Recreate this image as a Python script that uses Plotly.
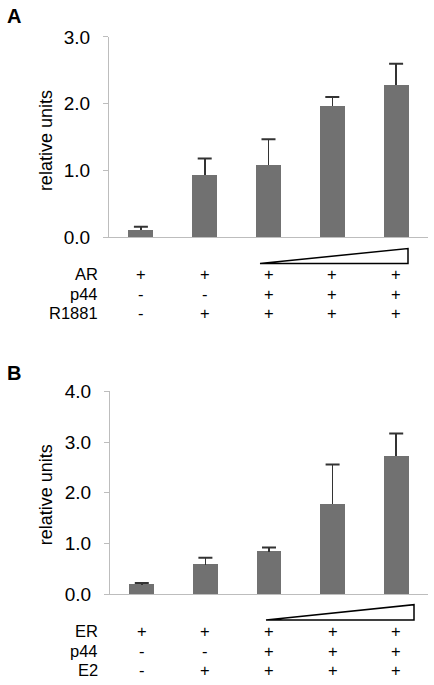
import plotly.graph_objects as go

W, H = 434, 685

# ---- data ----
conditions = ["c1", "c2", "c3", "c4", "c5"]

a_values = [0.11, 0.94, 1.08, 1.96, 2.28]
a_errors = [0.05, 0.24, 0.39, 0.14, 0.32]
a_rows = ["AR", "p44", "R1881"]
a_signs = [["+", "+", "+", "+", "+"],
           ["-", "-", "+", "+", "+"],
           ["-", "+", "+", "+", "+"]]
a_ticks = [0.0, 1.0, 2.0, 3.0]

b_values = [0.19, 0.58, 0.84, 1.77, 2.72]
b_errors = [0.03, 0.14, 0.08, 0.79, 0.45]
b_rows = ["ER", "p44", "E2"]
b_signs = [["+", "+", "+", "+", "+"],
           ["-", "-", "+", "+", "+"],
           ["-", "+", "+", "+", "+"]]
b_ticks = [0.0, 1.0, 2.0, 3.0, 4.0]

BAR = "#717171"
ERR = "#333333"
AXC = "#bdbdbd"
FONT = "Liberation Sans, Arial, sans-serif"

# the page is shown with 8px above and below and squeezed to fit; compensate
VS = 701 / 685


def px(x):
    return x / W


def py(y):
    yf = y * VS - 8
    return 1 - yf / H


fig = go.Figure()

for vals, errs, xa, ya in [(a_values, a_errors, "x", "y"), (b_values, b_errors, "x2", "y2")]:
    fig.add_trace(go.Bar(
        x=conditions, y=vals, xaxis=xa, yaxis=ya, width=0.39,
        marker=dict(color=BAR, line=dict(width=0)),
        error_y=dict(type="data", symmetric=False, array=errs,
                     arrayminus=[0] * len(errs), color=ERR, thickness=1.6, width=0),
        showlegend=False, hoverinfo="skip"))
    fig.add_trace(go.Scatter(
        x=conditions, y=[v + e for v, e in zip(vals, errs)], xaxis=xa, yaxis=ya,
        mode="markers",
        marker=dict(symbol="line-ew", size=10, line=dict(width=2, color=ERR)),
        showlegend=False, hoverinfo="skip"))

axis_common = dict(showgrid=False, zeroline=False, linecolor=AXC, linewidth=1.2,
                   showline=True)

fig.update_layout(
    width=W, height=H, margin=dict(l=0, r=0, t=0, b=0),
    paper_bgcolor="white", plot_bgcolor="white",
    font=dict(family=FONT, color="black"),
    bargap=0,
    xaxis=dict(domain=[px(109), px(428)], type="category", range=[-0.5, 4.5],
               showticklabels=False, ticks="", anchor="y", **axis_common),
    yaxis=dict(domain=[py(237), py(35)], range=[0, 3], tickvals=a_ticks,
               ticktext=[f"{t:.1f}" for t in a_ticks], ticks="outside", ticklen=5,
               tickcolor=AXC, tickfont=dict(size=19, family=FONT),
               ticklabelstandoff=9, anchor="x", **axis_common),
    xaxis2=dict(domain=[px(110), px(428)], type="category", range=[-0.5, 4.5],
                showticklabels=False, ticks="", anchor="y2", **axis_common),
    yaxis2=dict(domain=[py(596.7), py(392.3)], range=[0, 4], tickvals=b_ticks,
                ticktext=[f"{t:.1f}" for t in b_ticks], ticks="outside", ticklen=5,
                tickcolor=AXC, tickfont=dict(size=19, family=FONT),
                ticklabelstandoff=9, anchor="x2", **axis_common),
)

ann = []
# panel letters
ann.append(dict(text="<b>A</b>", x=px(5), y=py(14), xref="paper", yref="paper",
                xanchor="left", yanchor="middle", showarrow=False, font=dict(size=20)))
ann.append(dict(text="<b>B</b>", x=px(5), y=py(374), xref="paper", yref="paper",
                xanchor="left", yanchor="middle", showarrow=False, font=dict(size=20)))
# y titles
ann.append(dict(text="relative units", x=px(46), y=py(140), xref="paper", yref="paper",
                xanchor="center", yanchor="middle",
                textangle=-90, showarrow=False, font=dict(size=18)))
ann.append(dict(text="relative units", x=px(46), y=py(497), xref="paper", yref="paper",
                xanchor="center", yanchor="middle",
                textangle=-90, showarrow=False, font=dict(size=18)))

# condition rows
for rows, signs, ys, xr in [(a_rows, a_signs, [273, 293, 312], "x"),
                            (b_rows, b_signs, [633, 653, 672], "x2")]:
    for r, lab in enumerate(rows):
        yy = py(ys[r] + 1)
        ann.append(dict(text=lab, x=px(100), y=yy, xref="paper", yref="paper",
                        xanchor="right", yanchor="middle", showarrow=False,
                        font=dict(size=16.5)))
        for c, s in enumerate(signs[r]):
            ann.append(dict(text=s, x=conditions[c], y=yy, xref=xr, yref="paper",
                            xanchor="center", yanchor="middle", showarrow=False,
                            font=dict(size=16.5)))

fig.update_layout(annotations=ann)

# increasing-dose wedges
for (x0, x1, yb, yt) in [(260, 408, 263.3, 248.3), (266, 414, 622.7, 607.3)]:
    fig.add_shape(type="path", xref="paper", yref="paper",
                  path=f"M {px(x0)} {py(yb)} L {px(x1)} {py(yb)} L {px(x1)} {py(yt)} Z",
                  line=dict(color="black", width=1.5), fillcolor="white")

fig.write_html(
    "out.html",
    config={"displayModeBar": False},
    post_script="document.body.style.margin='0';document.body.style.overflow='hidden';",
)
